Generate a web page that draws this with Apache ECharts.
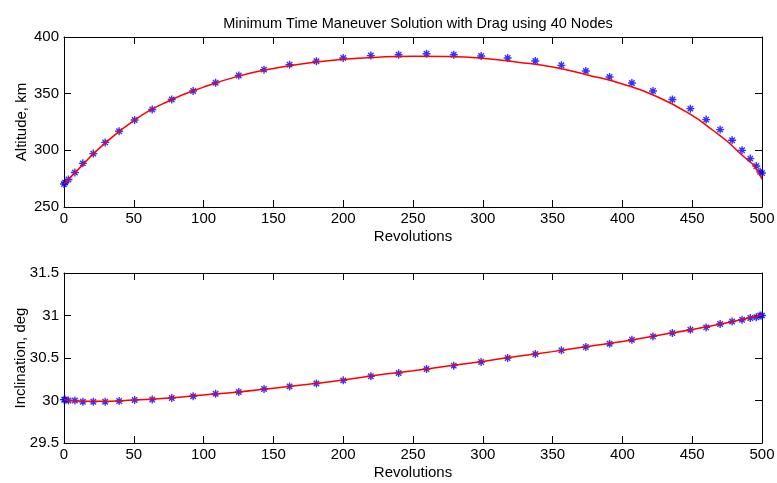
<!DOCTYPE html>
<html>
<head>
<meta charset="utf-8">
<script src="https://cdn.jsdelivr.net/npm/echarts@6/dist/echarts.min.js"></script>
<style>
html,body{margin:0;padding:0;background:#fff;}
#chart{width:777px;height:483px;}
</style>
</head>
<body>
<div id="chart"></div>
<script>
// ---- data ----
var titleText = 'Minimum Time Maneuver Solution with Drag using 40 Nodes';
var xTicks = [0, 50, 100, 150, 200, 250, 300, 350, 400, 450, 500];

// node positions (revolutions) of the 40 solution nodes
var nodeRev = [0, 0.8, 3.2, 7.8, 13.5, 21, 29.5, 39.5, 50.6, 63.2,
  77.2, 92.5, 108.6, 125.2, 143.3, 161.6, 180.8, 200, 219.8, 239.7,
  259.7, 279.2, 298.8, 317.8, 337.6, 356.3, 373.8, 390.8, 406.8, 421.9,
  435.8, 448.7, 460, 470, 478.6, 485.7, 491.6, 495.9, 498.7, 500];
var nodeAlt = [270.3, 271.5, 274.2, 280.5, 288.5, 297.1, 307, 316.8, 326.8, 336,
  344.8, 352.4, 359.6, 366, 371.2, 375.6, 378.6, 381.5, 383.6, 384.3,
  385.2, 384.4, 383.3, 381.5, 378.8, 375, 370, 364.7, 359.4, 352.4,
  344.8, 336.8, 327.1, 318.3, 308.9, 300, 292.7, 286.2, 281, 280];
var nodeInc = [30.01, 30.01, 30.0, 30.0, 29.985, 29.985, 29.985, 29.995, 30.005, 30.012,
  30.03, 30.05, 30.08, 30.1, 30.135, 30.166, 30.2, 30.237, 30.285, 30.324,
  30.37, 30.41, 30.453, 30.5, 30.547, 30.59, 30.63, 30.668, 30.715, 30.754,
  30.794, 30.833, 30.86, 30.9, 30.93, 30.95, 30.97, 30.98, 31.0, 31.0];

// propagated (continuous) trajectory
var altRev = [0, 10, 25, 50, 75, 100, 125, 150, 175, 200, 225, 250, 275, 300, 325,
  350, 375, 400, 425, 450, 465, 475, 485, 490, 495, 500];
var altVal = [270.3, 283, 301.5, 326.3, 343.5, 355.8, 365.5, 372.3, 377, 380.3, 382.2, 383, 382.8, 381.3, 377.8,
  373.5, 366.5, 358.6, 347.3, 330.8, 317.5, 308, 296.5, 291.3, 285.3, 274.5];
var incRev = [0, 10, 25, 50, 75, 100, 125, 150, 175, 200, 225, 250, 275, 300, 325,
  350, 375, 400, 425, 450, 475, 500];
var incVal = [30.01, 29.995, 29.99, 30.005, 30.03, 30.065, 30.1, 30.145, 30.19, 30.24, 30.3, 30.35, 30.405, 30.46, 30.52,
  30.575, 30.635, 30.695, 30.765, 30.835, 30.915, 31.005];

function pairs(xs, ys){ return xs.map(function(x,i){ return [x, ys[i]]; }); }

var FONT = '"Liberation Sans", Arial, Helvetica, sans-serif';
var star = 'path://M5,0L5,10M0,5L10,5M1.6,1.6L8.4,8.4M1.6,8.4L8.4,1.6';

function xAxisMain(grid){
  return {
    type:'value', gridIndex:grid, min:0, max:500, interval:50, position:'bottom',
    axisLine:{show:true, onZero:false, lineStyle:{color:'#000', width:1}},
    axisTick:{show:true, inside:true, length:7, lineStyle:{color:'#000'}},
    axisLabel:{color:'#000', fontSize:15, fontFamily:FONT, margin:4},
    splitLine:{show:false},
    name:'Revolutions', nameLocation:'middle', nameGap:22, nameMoveOverlap:false,
    nameTextStyle:{color:'#000', fontSize:15, fontFamily:FONT}
  };
}
function xAxisTop(grid){
  return {
    type:'value', gridIndex:grid, min:0, max:500, interval:50, position:'top',
    axisLine:{show:true, onZero:false, lineStyle:{color:'#000', width:1}},
    axisTick:{show:true, inside:true, length:7, lineStyle:{color:'#000'}},
    axisLabel:{show:false}, splitLine:{show:false}
  };
}
function yAxisMain(grid, min, max, interval, name, gap){
  return {
    type:'value', gridIndex:grid, min:min, max:max, interval:interval, position:'left',
    axisLine:{show:true, onZero:false, lineStyle:{color:'#000', width:1}},
    axisTick:{show:true, inside:true, length:7, lineStyle:{color:'#000'}},
    axisLabel:{color:'#000', fontSize:15, fontFamily:FONT, margin:5},
    splitLine:{show:false},
    name:name, nameLocation:'middle', nameGap:gap, nameMoveOverlap:false,
    nameTextStyle:{color:'#000', fontSize:15, fontFamily:FONT}
  };
}
function yAxisRight(grid, min, max, interval){
  return {
    type:'value', gridIndex:grid, min:min, max:max, interval:interval, position:'right',
    axisLine:{show:true, onZero:false, lineStyle:{color:'#000', width:1}},
    axisTick:{show:true, inside:true, length:7, lineStyle:{color:'#000'}},
    axisLabel:{show:false}, splitLine:{show:false}
  };
}

var chart = echarts.init(document.getElementById('chart'), null, {renderer:'canvas'});
chart.setOption({
  animation:false,
  backgroundColor:'#fff',
  title:{
    text:titleText, left:413, textAlign:'center', top:11,
    textStyle:{color:'#000', fontSize:14.5, fontWeight:'normal', fontFamily:FONT}
  },
  grid:[
    {left:64, top:37, width:698, height:170, containLabel:false, outerBoundsMode:'none'},
    {left:64, top:273, width:698, height:170, containLabel:false, outerBoundsMode:'none'}
  ],
  xAxis:[xAxisMain(0), xAxisTop(0), xAxisMain(1), xAxisTop(1)],
  yAxis:[
    yAxisMain(0, 250, 400, 50, 'Altitude, km', 35), yAxisRight(0, 250, 400, 50),
    yAxisMain(1, 29.5, 31.5, 0.5, 'Inclination, deg', 36), yAxisRight(1, 29.5, 31.5, 0.5)
  ],
  series:[
    {type:'scatter', xAxisIndex:0, yAxisIndex:0, data:pairs(nodeRev, nodeAlt),
     symbol:star, symbolSize:8,
     itemStyle:{color:'rgba(0,0,0,0)', borderColor:'#0000ff', borderWidth:1.4}, z:2},
    {type:'line', xAxisIndex:0, yAxisIndex:0, data:pairs(altRev, altVal),
     smooth:true, showSymbol:false, symbol:'none',
     lineStyle:{color:'#ff0000', width:1.5}, z:3},
    {type:'scatter', xAxisIndex:2, yAxisIndex:2, data:pairs(nodeRev, nodeInc),
     symbol:star, symbolSize:8,
     itemStyle:{color:'rgba(0,0,0,0)', borderColor:'#0000ff', borderWidth:1.4}, z:2},
    {type:'line', xAxisIndex:2, yAxisIndex:2, data:pairs(incRev, incVal),
     smooth:true, showSymbol:false, symbol:'none',
     lineStyle:{color:'#ff0000', width:1.5}, z:3}
  ]
});
</script>
</body>
</html>
